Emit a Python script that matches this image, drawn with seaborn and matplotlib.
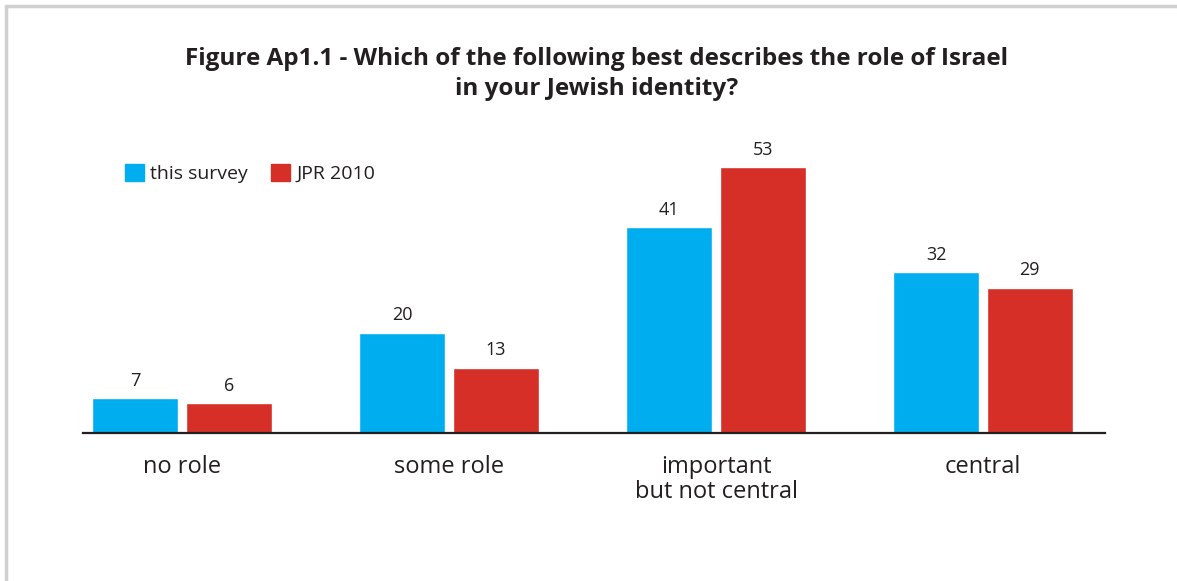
import pandas as pd
import matplotlib
matplotlib.use('Agg')
import matplotlib.pyplot as plt
import seaborn as sns
from matplotlib.patches import Patch

categories = ['no role', 'some role', 'important\nbut not central', 'central']
series_names = ['this survey', 'JPR 2010']
this_survey = [7, 20, 41, 32]
jpr_2010 = [6, 13, 53, 29]
colors = ['#00AEEF', '#D52F28']

df = pd.DataFrame({
    'role': categories * 2,
    'source': [series_names[0]] * 4 + [series_names[1]] * 4,
    'pct': this_survey + jpr_2010,
})

sns.set_style('white')
plt.rcParams['font.family'] = ['Open Sans', 'DejaVu Sans']

fig = plt.figure(figsize=(11.77, 5.81), dpi=100)
ax = fig.add_axes([83 / 1177, 148 / 581, 1022 / 1177, 301 / 581])

sns.barplot(data=df, x='role', y='pct', hue='source', palette=colors,
            width=0.70, gap=0.08, saturation=1, ax=ax, legend=False)

for cont in ax.containers:
    for bar in cont:
        h = bar.get_height()
        ax.annotate(f'{h:.0f}', (bar.get_x() + bar.get_width() / 2, h),
                    xytext=(0, 6), textcoords='offset points',
                    ha='center', va='bottom', fontsize=13, color='#231f20')

ax.set_xlim(-0.371, 3.457)
ax.set_ylim(0, 60)
ax.set_xlabel('')
ax.set_ylabel('')
ax.set_yticks([])
ax.tick_params(axis='x', length=0, pad=16, labelsize=17, labelcolor='#231f20')
for lab in ax.get_xticklabels():
    lab.set_linespacing(1.05)
for s in ['top', 'right', 'left']:
    ax.spines[s].set_visible(False)
ax.spines['bottom'].set_color('#231f20')
ax.spines['bottom'].set_linewidth(1.6)

handles = [Patch(color=c, label=n) for c, n in zip(colors, series_names)]
fig.legend(handles=handles, loc='upper left', bbox_to_anchor=(107 / 1177, 1 - 146 / 581),
           ncol=2, frameon=False, fontsize=14, handlelength=1.0, handleheight=1.0,
           handletextpad=0.3, columnspacing=1.2, labelcolor='#231f20')

fig.text(597 / 1177, 1 - 74 / 581,
         'Figure Ap1.1 - Which of the following best describes the role of Israel\nin your Jewish identity?',
         ha='center', va='center', fontsize=17.5, fontweight='bold', color='#231f20',
         linespacing=1.35)

# partial frame (top and left edges)
fig.add_artist(plt.Line2D([5.5 / 1177, 1], [1 - 6 / 581, 1 - 6 / 581], color='#d0d0d0', lw=2.5,
                          transform=fig.transFigure))
fig.add_artist(plt.Line2D([5.5 / 1177, 5.5 / 1177], [0, 1 - 6 / 581], color='#d0d0d0', lw=2.5,
                          transform=fig.transFigure))

fig.savefig('out.png', dpi=100)
